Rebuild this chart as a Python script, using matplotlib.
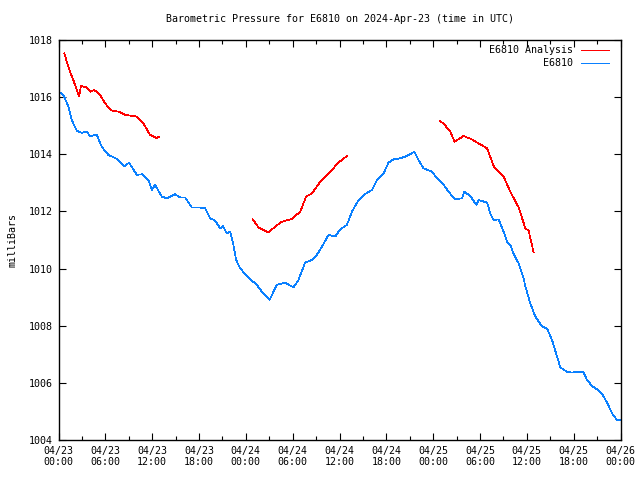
import numpy as np
import matplotlib
matplotlib.use("Agg")
import matplotlib.pyplot as plt
from matplotlib.ticker import MultipleLocator

# hours since 2024-04-23 00:00 UTC, pressure in mb
station_hours = [0.0, 0.62, 1.26, 1.69, 2.33, 2.97, 3.62, 4.04, 4.90, 5.54, 6.38, 7.46,
                 8.44, 9.04, 10.03, 10.74, 11.51, 11.95, 12.37, 13.23, 13.87, 14.94,
                 15.58, 16.22, 17.08, 17.92, 18.78, 19.42, 20.06, 20.71, 21.05, 21.56,
                 21.99, 22.41, 22.76, 23.27, 24.13, 24.77, 25.41, 26.05, 27.03, 27.97,
                 29.04, 30.10, 30.74, 31.60, 32.46, 33.10, 33.95, 34.59, 35.45, 36.09,
                 36.95, 37.59, 38.44, 39.29, 40.15, 40.79, 41.64, 42.28, 42.92, 43.78,
                 44.64, 45.58, 46.13, 46.77, 47.85, 48.49, 49.13, 49.97, 50.83, 51.69,
                 51.99, 52.76, 53.53, 53.82, 54.90, 55.32, 55.74, 56.38, 57.03, 57.46,
                 57.88, 58.31, 58.95, 59.59, 59.81, 60.45, 61.09, 61.95, 62.59, 63.23,
                 63.87, 64.29, 65.15, 65.79, 66.44, 67.21, 67.72, 68.36, 69.00, 69.64,
                 70.28, 70.92, 71.56, 72.0]
station_mb = [1016.19, 1016.08, 1015.67, 1015.20, 1014.83, 1014.75, 1014.79, 1014.64,
              1014.68, 1014.26, 1013.98, 1013.84, 1013.57, 1013.71, 1013.28, 1013.30,
              1013.10, 1012.75, 1012.93, 1012.52, 1012.46, 1012.60, 1012.49, 1012.49,
              1012.14, 1012.14, 1012.11, 1011.76, 1011.68, 1011.41, 1011.49, 1011.23,
              1011.29, 1010.83, 1010.30, 1010.01, 1009.74, 1009.58, 1009.43, 1009.19,
              1008.90, 1009.43, 1009.51, 1009.34, 1009.60, 1010.21, 1010.30, 1010.48,
              1010.86, 1011.18, 1011.12, 1011.37, 1011.53, 1011.99, 1012.40, 1012.61,
              1012.75, 1013.10, 1013.33, 1013.71, 1013.82, 1013.86, 1013.94, 1014.09,
              1013.80, 1013.51, 1013.39, 1013.16, 1013.01, 1012.69, 1012.42, 1012.46,
              1012.69, 1012.54, 1012.23, 1012.40, 1012.31, 1011.93, 1011.70, 1011.72,
              1011.29, 1010.94, 1010.83, 1010.51, 1010.18, 1009.66, 1009.37, 1008.78,
              1008.32, 1007.97, 1007.90, 1007.50, 1006.92, 1006.54, 1006.39, 1006.36,
              1006.39, 1006.39, 1006.10, 1005.89, 1005.77, 1005.61, 1005.31, 1004.93,
              1004.70, 1004.70]

# analysis series, None marks the gaps
analysis_hours = [0.74, 1.47, 1.90, 2.63, 2.88, 3.62, 4.04, 4.59, 5.32, 5.96, 6.82, 7.76,
                  8.53, 10.03, 10.87, 11.73, 12.59, 12.88, None,
                  24.90, 25.62, 26.90, 27.76, 28.62, 29.90, 30.96, 31.73, 32.46, 33.53,
                  34.81, 35.87, 36.95, None,
                  48.82, 49.33, 50.19, 50.74, 51.90, 52.97, 53.82, 54.90, 55.83, 57.03,
                  57.88, 58.95, 59.81, 60.23, 60.87]
analysis_mb = [1017.53, 1016.89, 1016.60, 1016.02, 1016.39, 1016.34, 1016.19, 1016.25,
               1016.08, 1015.78, 1015.53, 1015.49, 1015.38, 1015.32, 1015.08, 1014.68,
               1014.56, 1014.62, None,
               1011.72, 1011.44, 1011.26, 1011.47, 1011.64, 1011.74, 1011.99, 1012.52,
               1012.63, 1013.04, 1013.39, 1013.71, 1013.94, None,
               1015.17, 1015.08, 1014.79, 1014.44, 1014.64, 1014.52, 1014.38, 1014.21,
               1013.54, 1013.22, 1012.69, 1012.14, 1011.41, 1011.33, 1010.56]

tick_labels = ["04/23\n00:00", "04/23\n06:00", "04/23\n12:00", "04/23\n18:00",
               "04/24\n00:00", "04/24\n06:00", "04/24\n12:00", "04/24\n18:00",
               "04/25\n00:00", "04/25\n06:00", "04/25\n12:00", "04/25\n18:00",
               "04/26\n00:00"]

red = "#ff0000"
blue = "#0a80ff"
lw = 0.5  # thin, one pixel when not antialiased
plt.rcParams["font.family"] = "DejaVu Sans Mono"
plt.rcParams["font.size"] = 7.2

fig = plt.figure(figsize=(6.4, 4.8), dpi=100)
ax = fig.add_axes([58.5 / 640, 40 / 480, 562 / 640, 400 / 480])

ah = np.array([np.nan if v is None else v for v in analysis_hours])
am = np.array([np.nan if v is None else v for v in analysis_mb])
ax.plot(ah, am, color=red, lw=lw, antialiased=False)
ax.plot(station_hours, station_mb, color=blue, lw=lw, antialiased=False)

ax.set_xlim(0, 72)
ax.set_ylim(1004, 1018)
ax.set_xticks(np.arange(0, 73, 6))
ax.set_xticklabels(tick_labels)
ax.xaxis.set_minor_locator(MultipleLocator(3))
ax.set_yticks(np.arange(1004, 1019, 2))
ax.tick_params(which="both", direction="in", top=True, right=True, width=0.8)
ax.tick_params(which="major", length=5, pad=4)
ax.tick_params(which="minor", length=3)
for s in ax.spines.values():
    s.set_linewidth(1)

ax.set_ylabel("milliBars", labelpad=8)
fig.text((58.5 + 281) / 640, 1 - 19 / 480,
         "Barometric Pressure for E6810 on 2024-Apr-23 (time in UTC)",
         ha="center", va="center")

# key in the upper right, gnuplot style
for i, (lab, col) in enumerate([("E6810 Analysis", red), ("E6810", blue)]):
    yk = 1 - (10 + 13 * i) / 400
    ax.text((573 - 58.5) / 562, yk, lab, transform=ax.transAxes, ha="right", va="center")
    ax.plot([(581 - 58.5) / 562, (609 - 58.5) / 562], [yk, yk], color=col, lw=lw,
            transform=ax.transAxes, antialiased=False)

fig.savefig("out.png", dpi=100)
